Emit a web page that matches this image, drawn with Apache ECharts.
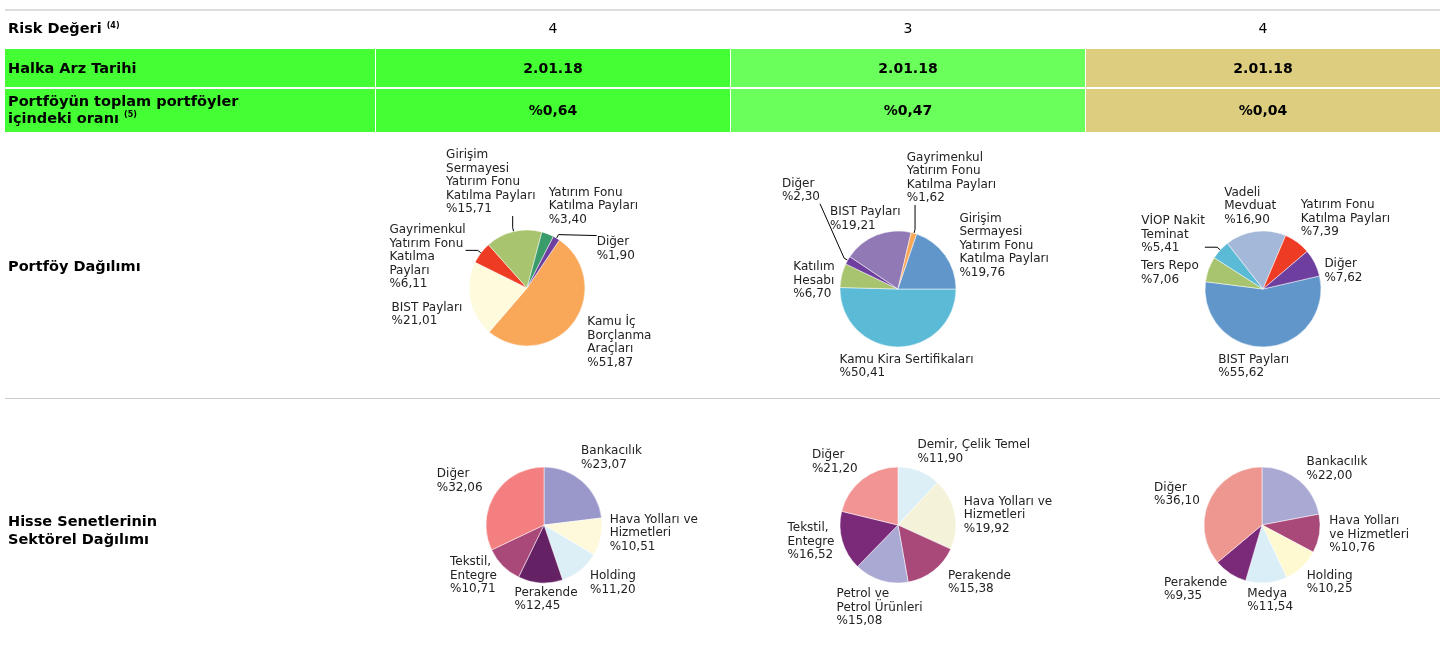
<!DOCTYPE html>
<html>
<head>
<meta charset="UTF-8">
<title>Portföy Dağılımı</title>
<script src="https://cdn.jsdelivr.net/npm/echarts@6/dist/echarts.min.js"></script>
<style>
  html, body { margin: 0; padding: 0; background: #fff; }
  #main { width: 1456px; height: 657px; }
</style>
</head>
<body>
<div id="main"></div>
<script type="text/javascript">
// table rows
var riskValues = ['4', '3', '4'];
var ipoDates = ['2.01.18', '2.01.18', '2.01.18'];
var shareOfTotal = ['%0,64', '%0,47', '%0,04'];

// portföy dağılımı (clockwise order)
var fund1Names = ['Kamu İç\nBorçlanma\nAraçları', 'BIST Payları', 'Gayrimenkul\nYatırım Fonu\nKatılma\nPayları', 'Girişim\nSermayesi\nYatırım Fonu\nKatılma Payları', 'Yatırım Fonu\nKatılma Payları', 'Diğer'];
var fund1Values = [51.87, 21.01, 6.11, 15.71, 3.40, 1.90];
var fund2Names = ['Kamu Kira Sertifikaları', 'Katılım\nHesabı', 'Diğer', 'BIST Payları', 'Gayrimenkul\nYatırım Fonu\nKatılma Payları', 'Girişim\nSermayesi\nYatırım Fonu\nKatılma Payları'];
var fund2Values = [50.41, 6.70, 2.30, 19.21, 1.62, 19.76];
var fund3Names = ['BIST Payları', 'Ters Repo', 'VİOP Nakit\nTeminat', 'Vadeli\nMevduat', 'Yatırım Fonu\nKatılma Payları', 'Diğer'];
var fund3Values = [55.62, 7.06, 5.41, 16.90, 7.39, 7.62];

// hisse senetlerinin sektörel dağılımı (clockwise from top)
var sector1Names = ['Bankacılık', 'Hava Yolları ve\nHizmetleri', 'Holding', 'Perakende', 'Tekstil,\nEntegre', 'Diğer'];
var sector1Values = [23.07, 10.51, 11.20, 12.45, 10.71, 32.06];
var sector2Names = ['Demir, Çelik Temel', 'Hava Yolları ve\nHizmetleri', 'Perakende', 'Petrol ve\nPetrol Ürünleri', 'Tekstil,\nEntegre', 'Diğer'];
var sector2Values = [11.90, 19.92, 15.38, 15.08, 16.52, 21.20];
var sector3Names = ['Bankacılık', 'Hava Yolları\nve Hizmetleri', 'Holding', 'Medya', 'Perakende', 'Diğer'];
var sector3Values = [22.00, 10.76, 10.25, 11.54, 9.35, 36.10];

// colours
var fund1Colors = ['#f9a85a', '#fefadc', '#ee3b24', '#a8c46e', '#3a9b6b', '#6e3f9e'];
var fund2Colors = ['#5bbad5', '#a8c46e', '#6e3f9e', '#9079b4', '#f9a85a', '#6196cb'];
var fund3Colors = ['#6196cb', '#a8c46e', '#5bbad5', '#a4b9d9', '#ee3b24', '#6e3f9e'];
var sector1Colors = ['#9a98cb', '#fef9da', '#dceef6', '#642264', '#a9497a', '#f37f80'];
var sector2Colors = ['#dceef6', '#f4f2d8', '#a9497a', '#a9a9d4', '#7a2a78', '#f39494'];
var sector3Colors = ['#a9a9d4', '#a9497a', '#fef9d0', '#d9eef6', '#7a2a78', '#ee9690'];

// label fine tuning (px) on top of the radial placement
var fund1Shift = [[11, -8], [-4, 10], [-1, 46], [2, 2], [12, -4], [31, 40]];
var fund2Shift = [[11, 2], [-3, 13], [-12, -51], [16, 1], [8, -11], [11, 22]];
var fund3Shift = [[-16, 2], [-6, 12], [-2, 17], [2, -1], [1, 0], [6, 19]];
var sector1Shift = [[-4, -7], [5, -11], [7, -4], [10, -1], [-3, -13], [-9, 0]];
var sector2Shift = [[12, -2], [5, 8], [12, -5], [25, 3], [-4, -9], [-2, -1]];
var sector3Shift = [[5, 5], [6, -4], [2, -1], [0, 0], [-1, -1], [-6, 4]];

var FONT = '"DejaVu Sans", Verdana, sans-serif';
var R = 58;
var colX = [376, 731, 1086];
var colW = 354;
var colCenters = [553, 908, 1263];
var ipoColors = ['#44ff33', '#6bff5b', '#ddce7f'];

function fmt(v) {
    return '%' + v.toFixed(2).replace('.', ',');
}
function clamp(v) {
    return Math.max(-1, Math.min(1, v));
}

var pies = [
    { center: [527, 288], names: fund1Names, values: fund1Values, colors: fund1Colors, startAngle: 56, leaders: [2, 3, 5], shift: fund1Shift },
    { center: [898, 289], names: fund2Names, values: fund2Values, colors: fund2Colors, startAngle: 0, leaders: [2, 4], shift: fund2Shift },
    { center: [1263, 289], names: fund3Names, values: fund3Values, colors: fund3Colors, startAngle: 13, leaders: [2], shift: fund3Shift },
    { center: [544, 525], names: sector1Names, values: sector1Values, colors: sector1Colors, startAngle: 90, leaders: [], shift: sector1Shift },
    { center: [898, 525], names: sector2Names, values: sector2Values, colors: sector2Colors, startAngle: 90, leaders: [], shift: sector2Shift },
    { center: [1262, 525], names: sector3Names, values: sector3Values, colors: sector3Colors, startAngle: 90, leaders: [], shift: sector3Shift }
];

// mid angle of each slice, degrees clockwise from 12 o'clock
pies.forEach(function (p) {
    var total = p.values.reduce(function (a, b) { return a + b; }, 0);
    var acc = 0;
    p.mids = p.values.map(function (v) {
        var m = (90 - p.startAngle) + 360 * (acc + v / 2) / total;
        acc += v;
        return m;
    });
});

function placeLabel(params) {
    var p = pies[params.seriesIndex];
    var i = params.dataIndex;
    var th = p.mids[i] * Math.PI / 180;
    var ux = Math.sin(th), uy = -Math.cos(th);
    var lead = p.leaders.indexOf(i) >= 0;
    var d = lead ? 18 : 4;
    var px = p.center[0] + (R + d) * ux;
    var py = p.center[1] + (R + d) * uy;
    var w = params.labelRect.width, h = params.labelRect.height;
    var cx = px + clamp(2 * ux) * w / 2;
    var cy = py + clamp(1.5 * uy) * h / 2;
    var x = cx - w / 2 + p.shift[i][0];
    var y = cy - h / 2 + p.shift[i][1];
    var res = { x: x, y: y, align: 'left', verticalAlign: 'top' };
    if (lead) {
        var ex = p.center[0] + R * ux, ey = p.center[1] + R * uy;
        var e2x = p.center[0] + (R + 4) * ux, e2y = p.center[1] + (R + 4) * uy;
        var qx = Math.max(x, Math.min(x + w, e2x));
        var qy = Math.max(y, Math.min(y + h, e2y));
        res.labelLinePoints = [[ex, ey], [e2x, e2y], [qx, qy]];
    }
    return res;
}

function pie(p) {
    return {
        type: 'pie',
        center: p.center,
        radius: R,
        startAngle: p.startAngle,
        clockwise: true,
        avoidLabelOverlap: false,
        itemStyle: { borderColor: '#fff', borderWidth: 0.5 },
        label: {
            show: true,
            position: 'outside',
            fontFamily: FONT,
            fontSize: 12,
            lineHeight: 13.5,
            color: '#222',
            formatter: function (d) { return d.name + '\n' + fmt(d.value); }
        },
        labelLine: { show: true, length: 10, length2: 4, smooth: false, lineStyle: { color: '#000', width: 1 } },
        labelLayout: placeLabel,
        data: p.names.map(function (n, i) {
            return {
                name: n,
                value: p.values[i],
                itemStyle: { color: p.colors[i] },
                labelLine: { show: p.leaders.indexOf(i) >= 0 }
            };
        })
    };
}

var graphics = [];
// top rule and separator
graphics.push({ type: 'rect', shape: { x: 5, y: 9, width: 1435, height: 2 }, style: { fill: '#dddddd' } });
graphics.push({ type: 'rect', shape: { x: 5, y: 398, width: 1435, height: 1 }, style: { fill: '#cccccc' } });

var boldLabel = { fontFamily: FONT, fontSize: 14.5, fontWeight: 'bold', fill: '#000' };
var supLabel = { fontFamily: FONT, fontSize: 8, fontWeight: 'bold', fill: '#000', verticalAlign: 'top' };
graphics.push({
    type: 'text', x: 8, y: 29,
    style: {
        text: '{b|Risk Değeri }{s|(4)}', textVerticalAlign: 'middle',
        rich: { b: boldLabel, s: supLabel }
    }
});

// green/khaki cells
graphics.push({ type: 'rect', shape: { x: 5, y: 49, width: 370, height: 38 }, style: { fill: ipoColors[0] } });
graphics.push({ type: 'rect', shape: { x: 5, y: 89, width: 370, height: 43 }, style: { fill: ipoColors[0] } });
for (var i = 0; i < 3; i++) {
    graphics.push({ type: 'rect', shape: { x: colX[i], y: 49, width: colW, height: 38 }, style: { fill: ipoColors[i] } });
    graphics.push({ type: 'rect', shape: { x: colX[i], y: 89, width: colW, height: 43 }, style: { fill: ipoColors[i] } });
    graphics.push({ type: 'text', x: colCenters[i], y: 29, style: { text: riskValues[i], fontFamily: FONT, fontSize: 14, fill: '#000', textAlign: 'center', textVerticalAlign: 'middle' } });
    graphics.push({ type: 'text', x: colCenters[i], y: 69, style: { text: ipoDates[i], fontFamily: FONT, fontSize: 14, fontWeight: 'bold', fill: '#000', textAlign: 'center', textVerticalAlign: 'middle' } });
    graphics.push({ type: 'text', x: colCenters[i], y: 111, style: { text: shareOfTotal[i], fontFamily: FONT, fontSize: 14, fontWeight: 'bold', fill: '#000', textAlign: 'center', textVerticalAlign: 'middle' } });
}
graphics.push({ type: 'text', x: 8, y: 69, style: Object.assign({ text: 'Halka Arz Tarihi', textVerticalAlign: 'middle' }, boldLabel) });
graphics.push({
    type: 'text', x: 8, y: 111,
    style: {
        text: '{b|Portföyün toplam portföyler}\n{b|içindeki oranı }{s|(5)}', textVerticalAlign: 'middle',
        rich: {
            b: Object.assign({ lineHeight: 17 }, boldLabel),
            s: Object.assign({ lineHeight: 17 }, supLabel)
        }
    }
});
graphics.push({ type: 'text', x: 8, y: 267, style: Object.assign({ text: 'Portföy Dağılımı', textVerticalAlign: 'middle' }, boldLabel) });
graphics.push({ type: 'text', x: 8, y: 531, style: Object.assign({ text: 'Hisse Senetlerinin\nSektörel Dağılımı', textVerticalAlign: 'middle', lineHeight: 18 }, boldLabel) });

var myChart = echarts.init(document.getElementById('main'));
var option = {
    animation: false,
    backgroundColor: '#fff',
    graphic: graphics,
    series: pies.map(pie)
};
myChart.setOption(option);
</script>
</body>
</html>
